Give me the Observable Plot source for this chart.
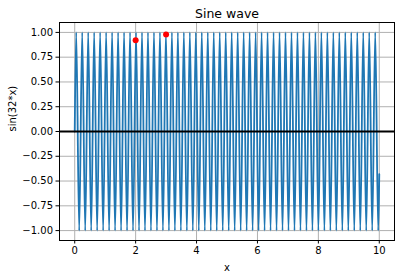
<!DOCTYPE html>
<html>
<head>
<meta charset="utf-8">
<script src="https://cdn.jsdelivr.net/npm/d3@7"></script>
<script src="https://cdn.jsdelivr.net/npm/@observablehq/plot@0.6"></script>
<style>
  html, body { margin: 0; padding: 0; background: #fff; }
  #chart svg { display: block; }
</style>
</head>
<body>
<div id="chart"></div>
<script>
// Turning points of the wave
const peakX = [0.049,0.245,0.442,0.638,0.834,1.031,1.227,1.424,1.620,1.816,2.013,2.209,2.405,2.602,2.798,2.994,3.191,3.387,3.583,3.780,3.976,4.172,4.369,4.565,4.761,4.958,5.154,5.351,5.547,5.743,5.940,6.136,6.332,6.529,6.725,6.921,7.118,7.314,7.510,7.707,7.903,8.099,8.296,8.492,8.688,8.885,9.081,9.278,9.474,9.670,9.867];
const troughX = [0.147,0.344,0.540,0.736,0.933,1.129,1.325,1.522,1.718,1.914,2.111,2.307,2.503,2.700,2.896,3.093,3.289,3.485,3.682,3.878,4.074,4.271,4.467,4.663,4.860,5.056,5.252,5.449,5.645,5.841,6.038,6.234,6.430,6.627,6.823,7.019,7.216,7.412,7.609,7.805,8.001,8.198,8.394,8.590,8.787,8.983,9.179,9.376,9.572,9.768,9.965];
const peakY = 1.0;
const troughY = -1.0;
const startPoint = [0, 0];
const endPoint = [10, -0.43];
// Highlighted points
const markX = [2, 3];
const markY = [0.92, 0.98];
// Ticks
const xTicks = [0, 2, 4, 6, 8, 10];
const yTicks = [-1, -0.75, -0.5, -0.25, 0, 0.25, 0.5, 0.75, 1];
const titleText = "Sine wave";
const xLabel = "x";
const yLabel = "sin(32*x)";

const wave = [{x: startPoint[0], y: startPoint[1]}];
for (let i = 0; i < peakX.length; i++) {
  wave.push({x: peakX[i], y: peakY});
  wave.push({x: troughX[i], y: troughY});
}
wave.push({x: endPoint[0], y: endPoint[1]});
const marks = markX.map((x, i) => ({x, y: markY[i]}));

const font = "DejaVu Sans, sans-serif";
const chart = Plot.plot({
  width: 400,
  height: 278,
  marginLeft: 59,
  marginRight: 6,
  marginTop: 22,
  marginBottom: 38,
  style: {fontFamily: font, fontSize: "10px", color: "#000", background: "#fff"},
  x: {domain: [-0.5, 10.5]},
  y: {domain: [-1.1, 1.1]},
  marks: [
    Plot.gridX(xTicks, {stroke: "#b0b0b0", strokeOpacity: 1, strokeWidth: 1}),
    Plot.gridY(yTicks, {stroke: "#b0b0b0", strokeOpacity: 1, strokeWidth: 1}),
    Plot.line(wave, {x: "x", y: "y", stroke: "#1f77b4", strokeWidth: 1.8, curve: "monotone-x"}),
    Plot.ruleY([0], {stroke: "black", strokeWidth: 2}),
    Plot.dot(marks, {x: "x", y: "y", r: 3, fill: "red", stroke: "none"}),
    Plot.frame({stroke: "black", strokeWidth: 1}),
    Plot.axisX(xTicks, {tickSize: 3.5, tickPadding: 3, tickFormat: d3.format("d"), label: null, fontSize: 10}),
    Plot.axisY(yTicks, {tickSize: 3.5, tickPadding: 3, tickFormat: d3.format(".2f"), label: null, fontSize: 10}),
    Plot.text([titleText], {frameAnchor: "top", lineAnchor: "middle", dy: -9, fontSize: 12.5, fill: "black"}),
    Plot.text([xLabel], {frameAnchor: "bottom", lineAnchor: "middle", dy: 27, fontSize: 10, fill: "black"}),
    Plot.text([yLabel], {frameAnchor: "left", lineAnchor: "middle", dx: -47, rotate: -90, fontSize: 10, fill: "black"})
  ]
});
document.getElementById("chart").appendChild(chart);
</script>
</body>
</html>
